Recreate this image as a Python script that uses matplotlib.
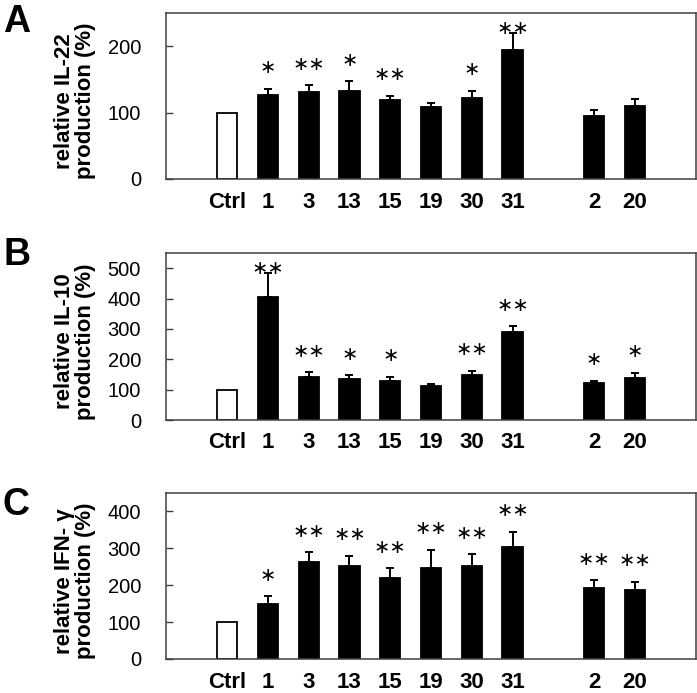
# ==========================================================
# Relative cytokine production - three panels (A, B, C)
# ==========================================================

import numpy as np
import matplotlib
matplotlib.use("Agg")
import matplotlib.pyplot as plt

plt.rcParams["font.family"] = ["Liberation Sans", "DejaVu Sans"]

# ==========================================================
# DADOS
# ==========================================================

categorias = ["Ctrl", "1", "3", "13", "15", "19", "30", "31", "2", "20"]

il22_media = [100, 127, 131.5, 133, 119.5, 108, 122.5, 194.5, 95.5, 110.5]
il22_sd = [0, 9, 10, 14, 5.5, 6, 10.5, 25, 9, 10]
il22_sig = ["", "*", "**", "*", "**", "", "*", "**", "", ""]

il10_media = [100, 406, 141, 134, 127, 111, 148, 291, 121, 138]
il10_sd = [0, 77, 16, 14, 15, 7.5, 14, 17, 9, 17.5]
il10_sig = ["", "**", "**", "*", "*", "", "**", "**", "*", "*"]

ifng_media = [100, 149, 264, 252.5, 219, 246, 251, 304, 192, 188]
ifng_sd = [0, 21, 26, 27, 27, 50, 33, 41, 21.5, 21]
ifng_sig = ["", "*", "**", "**", "**", "**", "**", "**", "**", "**"]

# ==========================================================
# CONFIGURACOES
# ==========================================================

W, H = 697, 693
DPI = 100

# posicoes: lacuna entre "31" e "2"
idx = np.arange(len(categorias))
posicoes = idx + (idx >= 8) * 1.0

painel_cfg = [
    # letra, ylabel, media, sd, sig, yticks, ymax, (top_px, bottom_px), letra_baseline_px
    ("A", "relative IL-22\nproduction (%)", il22_media, il22_sd, il22_sig,
     [0, 100, 200], 250, (13, 179), 32),
    ("B", "relative IL-10\nproduction (%)", il10_media, il10_sd, il10_sig,
     [0, 100, 200, 300, 400, 500], 550, (253, 420), 265),
    ("C", "relative IFN- \u03b3\nproduction (%)", ifng_media, ifng_sd, ifng_sig,
     [0, 100, 200, 300, 400], 450, (493, 659), 515),
]

AX_LEFT_PX = 166
AX_RIGHT_PX = 696

# ==========================================================
# PAINEL
# ==========================================================

def desenhar_painel(fig, cfg):

    letra, ylabel, media, sd, sig, yticks, ymax, (top_px, bot_px), letra_y = cfg

    rect = [
        AX_LEFT_PX / W,
        1 - bot_px / H,
        (AX_RIGHT_PX - AX_LEFT_PX) / W,
        (bot_px - top_px) / H,
    ]
    ax = fig.add_axes(rect)
    altura_px = bot_px - top_px

    media = np.array(media, dtype=float)
    sd = np.array(sd, dtype=float)

    cores = ["white"] + ["black"] * (len(media) - 1)

    ax.bar(
        posicoes,
        media,
        width=0.5,
        color=cores,
        edgecolor="black",
        linewidth=1.3,
        zorder=2,
    )

    ax.errorbar(
        posicoes[1:],
        media[1:],
        yerr=[np.zeros(len(media) - 1), sd[1:]],
        fmt="none",
        ecolor="black",
        elinewidth=1.4,
        capsize=3,
        capthick=1.4,
        zorder=1,
    )

    # asteriscos de significancia
    trans = ax.get_xaxis_transform()
    for x, m, s, txt in zip(posicoes, media, sd, sig):
        if not txt:
            continue
        frac = (m + s) / ymax
        centro = min(frac + 21 / altura_px, 1 - 15 / altura_px)
        ax.text(
            x,
            centro,
            "\u2217" * len(txt),
            transform=trans,
            ha="center",
            va="center",
            fontsize=14,
            family="DejaVu Sans",
            color="black",
        )

    ax.set_xlim(-1.5, 11.5)
    ax.set_ylim(0, ymax)
    ax.set_yticks(yticks)
    ax.set_xticks(posicoes)
    ax.set_xticklabels(categorias, fontsize=16, fontweight="bold")

    ax.tick_params(axis="x", length=0, pad=9)
    ax.tick_params(axis="y", direction="in", length=5, width=1,
                   labelsize=14.5, pad=18, color="#404040")

    for sp in ax.spines.values():
        sp.set_color("#404040")
        sp.set_linewidth(1.1)

    ax.set_ylabel(ylabel, fontsize=16, fontweight="bold",
                  linespacing=1.0, va="center", ha="center")
    ax.yaxis.set_label_coords(-0.172, 0.47)

    fig.text(3 / W, 1 - letra_y / H, letra, fontsize=27,
             fontweight="bold", ha="left", va="baseline")

    return ax

# ==========================================================
# PROGRAMA PRINCIPAL
# ==========================================================

def main():

    fig = plt.figure(figsize=(W / DPI, H / DPI), dpi=DPI)

    for cfg in painel_cfg:
        desenhar_painel(fig, cfg)

    fig.savefig("out.png", dpi=DPI)

if __name__ == "__main__":

    main()
